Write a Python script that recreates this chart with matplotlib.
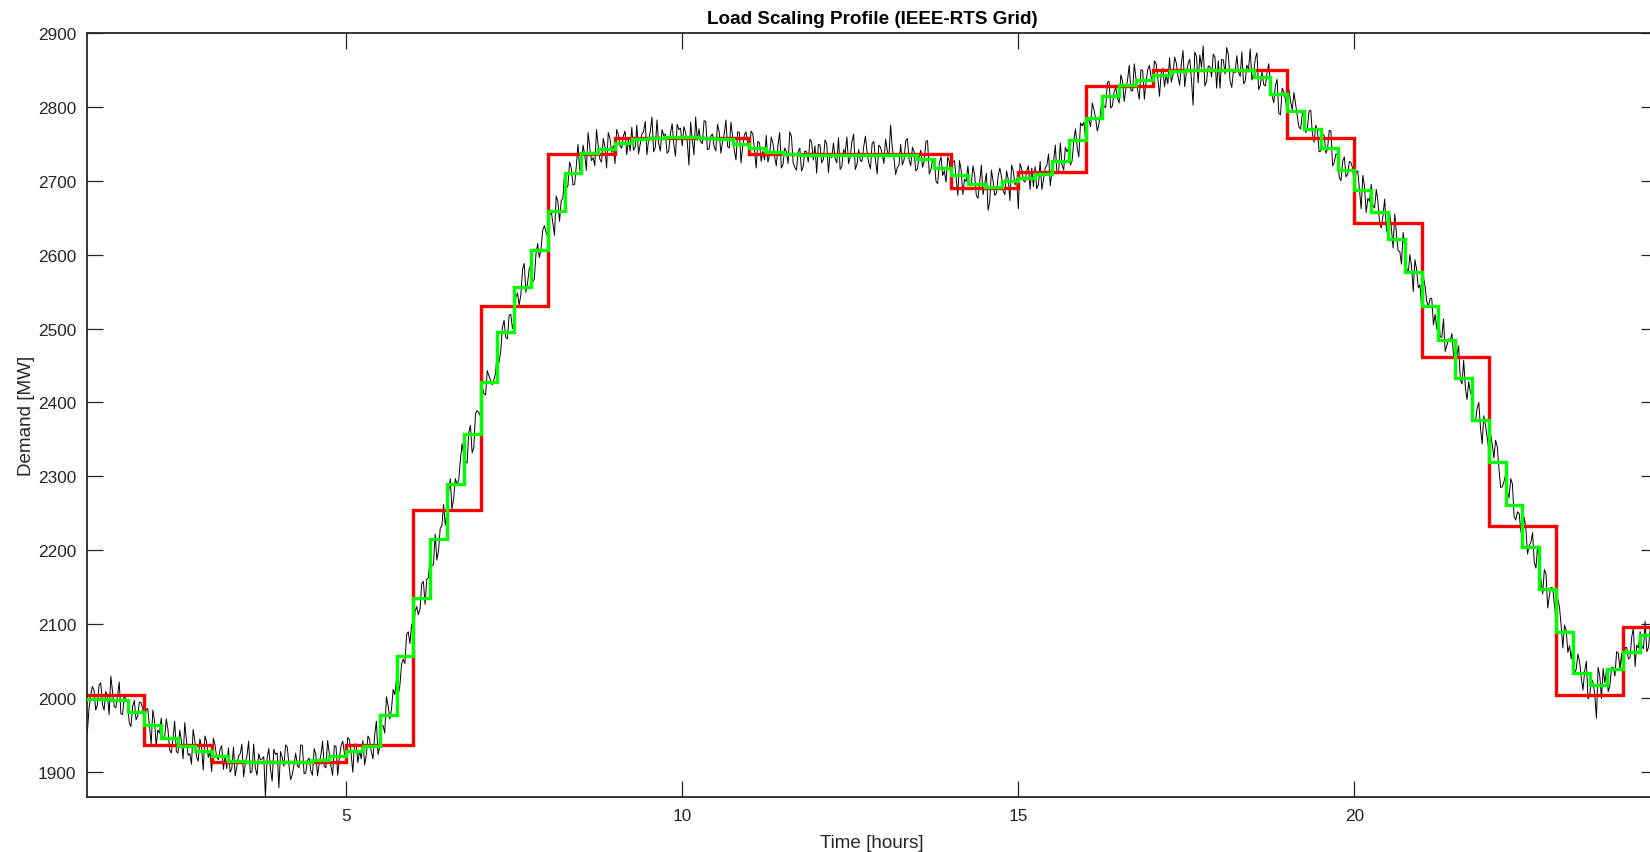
import numpy as np
import matplotlib
matplotlib.use('Agg')
import matplotlib.pyplot as plt

plt.rcParams['font.family'] = ['Liberation Sans', 'DejaVu Sans']

TEXT_COLOR = '#262626'

# hourly scaling profile (value holds from the hour start)
hour_start = list(range(1, 25))
hourly_mw = [2005, 1937, 1914, 1914, 1937, 2255, 2530, 2736, 2758, 2758, 2736, 2736,
             2736, 2690, 2712, 2828, 2850, 2850, 2758, 2643, 2462, 2233, 2005, 2097]

# 15 minute profile, quarters starting at 1.00 h
quarter_mw = [1999, 1999, 1998, 1981, 1964, 1946, 1936, 1929, 1922, 1915, 1914, 1914,
              1914, 1914, 1916, 1922, 1929, 1935, 1978, 2057, 2135, 2215, 2290, 2358,
              2427, 2495, 2556, 2606, 2659, 2710, 2737, 2743, 2751, 2756, 2758, 2759,
              2759, 2758, 2756, 2750, 2744, 2739, 2736, 2735, 2735, 2735, 2735, 2735,
              2735, 2735, 2729, 2717, 2707, 2696, 2692, 2699, 2704, 2709, 2727, 2755,
              2785, 2814, 2829, 2836, 2843, 2848, 2850, 2850, 2850, 2850, 2840, 2817,
              2794, 2770, 2744, 2715, 2687, 2658, 2621, 2576, 2531, 2484, 2433, 2376,
              2320, 2262, 2204, 2148, 2090, 2034, 2018, 2040, 2063, 2085]

# measured load, 1.5 minute samples from 1.15 h to 24.5 h (one row per quarter)
load_mw = [
    1953, 1985, 2004, 2016,
    2011, 1984, 1991, 2018, 2021, 1992, 1984, 2009, 2004, 1978,
    2030, 2010, 1989, 1987, 2003, 2022, 1979, 1978, 2004, 1997,
    1996, 1966, 1962, 1989, 1997, 1971, 1976, 1995, 1994, 1986,
    1964, 1985, 1986, 1962, 1938, 1984, 1970, 1936, 1957, 1953,
    1973, 1947, 1945, 1972, 1958, 1930, 1926, 1945, 1969, 1928,
    1926, 1957, 1942, 1918, 1967, 1943, 1923, 1925, 1911, 1958,
    1942, 1921, 1915, 1945, 1934, 1903, 1949, 1941, 1920, 1927,
    1901, 1946, 1937, 1920, 1917, 1931, 1936, 1904, 1922, 1905,
    1933, 1900, 1905, 1934, 1895, 1908, 1922, 1925, 1938, 1894,
    1911, 1922, 1942, 1899, 1901, 1938, 1906, 1896, 1925, 1917,
    1918, 1921, 1867, 1919, 1932, 1904, 1888, 1931, 1924, 1926,
    1879, 1928, 1920, 1908, 1937, 1934, 1910, 1890, 1897, 1910,
    1926, 1909, 1906, 1937, 1936, 1898, 1899, 1916, 1919, 1902,
    1896, 1932, 1924, 1895, 1912, 1923, 1942, 1908, 1906, 1943,
    1925, 1908, 1896, 1936, 1935, 1896, 1920, 1936, 1942, 1926,
    1917, 1947, 1944, 1925, 1900, 1938, 1938, 1913, 1929, 1918,
    1943, 1910, 1923, 1949, 1944, 1928, 1918, 1950, 1969, 1924,
    1934, 1962, 1963, 1953, 2002, 1990, 1972, 1985, 2012, 2005,
    2027, 2004, 2017, 2046, 2053, 2047, 2086, 2090, 2074, 2100,
    2085, 2117, 2124, 2113, 2121, 2155, 2158, 2127, 2161, 2163,
    2192, 2179, 2181, 2222, 2187, 2199, 2230, 2233, 2262, 2234,
    2251, 2279, 2297, 2256, 2270, 2297, 2289, 2295, 2322, 2344,
    2328, 2320, 2318, 2359, 2369, 2332, 2339, 2385, 2389, 2386,
    2381, 2421, 2412, 2410, 2443, 2436, 2430, 2424, 2431, 2440,
    2475, 2454, 2468, 2501, 2511, 2488, 2486, 2518, 2519, 2500,
    2510, 2542, 2548, 2532, 2546, 2580, 2588, 2549, 2562, 2581,
    2586, 2563, 2567, 2601, 2615, 2596, 2608, 2633, 2639, 2630,
    2624, 2652, 2660, 2643, 2626, 2679, 2672, 2645, 2673, 2676,
    2710, 2689, 2693, 2725, 2717, 2694, 2695, 2720, 2749, 2714,
    2715, 2748, 2735, 2714, 2765, 2744, 2727, 2731, 2720, 2769,
    2748, 2729, 2725, 2757, 2746, 2717, 2765, 2757, 2738, 2747,
    2723, 2769, 2762, 2747, 2744, 2760, 2767, 2735, 2755, 2740,
    2772, 2741, 2745, 2775, 2736, 2749, 2763, 2766, 2780, 2735,
    2755, 2766, 2786, 2739, 2745, 2782, 2750, 2740, 2769, 2761,
    2763, 2737, 2740, 2764, 2777, 2749, 2733, 2776, 2769, 2771,
    2747, 2773, 2765, 2753, 2721, 2779, 2755, 2735, 2786, 2755,
    2770, 2753, 2750, 2781, 2780, 2742, 2743, 2760, 2763, 2746,
    2740, 2776, 2766, 2737, 2752, 2763, 2782, 2746, 2744, 2779,
    2759, 2741, 2728, 2766, 2765, 2724, 2746, 2762, 2766, 2749,
    2738, 2767, 2763, 2742, 2717, 2753, 2751, 2726, 2740, 2728,
    2761, 2725, 2735, 2759, 2750, 2732, 2720, 2748, 2765, 2717,
    2722, 2744, 2739, 2723, 2766, 2760, 2724, 2718, 2714, 2739,
    2744, 2713, 2719, 2740, 2739, 2725, 2756, 2752, 2728, 2747,
    2710, 2749, 2748, 2724, 2729, 2755, 2750, 2711, 2737, 2731,
    2751, 2730, 2724, 2758, 2715, 2719, 2742, 2737, 2759, 2723,
    2732, 2753, 2763, 2715, 2722, 2742, 2727, 2726, 2746, 2760,
    2739, 2724, 2716, 2750, 2753, 2728, 2709, 2748, 2745, 2736,
    2723, 2756, 2741, 2732, 2775, 2744, 2731, 2708, 2718, 2721,
    2749, 2721, 2728, 2754, 2757, 2728, 2720, 2745, 2739, 2713,
    2716, 2733, 2741, 2718, 2726, 2753, 2754, 2709, 2715, 2728,
    2729, 2699, 2696, 2724, 2732, 2707, 2713, 2698, 2732, 2725,
    2703, 2725, 2727, 2703, 2680, 2727, 2714, 2681, 2702, 2699,
    2720, 2694, 2693, 2720, 2708, 2680, 2676, 2697, 2721, 2681,
    2695, 2710, 2660, 2672, 2714, 2699, 2680, 2683, 2706, 2717,
    2705, 2686, 2681, 2713, 2702, 2673, 2721, 2713, 2694, 2702,
    2662, 2723, 2716, 2700, 2698, 2713, 2720, 2688, 2717, 2692,
    2719, 2689, 2695, 2726, 2688, 2702, 2717, 2721, 2736, 2693,
    2712, 2726, 2748, 2709, 2712, 2751, 2721, 2714, 2745, 2739,
    2744, 2721, 2727, 2754, 2770, 2745, 2732, 2778, 2774, 2779,
    2758, 2787, 2782, 2773, 2805, 2796, 2784, 2767, 2777, 2793,
    2815, 2800, 2799, 2833, 2834, 2798, 2801, 2820, 2826, 2811,
    2805, 2843, 2835, 2807, 2824, 2836, 2856, 2822, 2821, 2858,
    2838, 2822, 2810, 2850, 2849, 2810, 2834, 2850, 2856, 2840,
    2831, 2862, 2858, 2839, 2814, 2845, 2852, 2827, 2843, 2831,
    2866, 2833, 2842, 2867, 2859, 2841, 2829, 2858, 2876, 2827,
    2846, 2858, 2864, 2837, 2802, 2874, 2868, 2832, 2870, 2853,
    2882, 2828, 2834, 2855, 2854, 2840, 2871, 2867, 2825, 2862,
    2825, 2864, 2863, 2844, 2880, 2870, 2835, 2826, 2848, 2846,
    2869, 2847, 2841, 2874, 2831, 2834, 2856, 2851, 2878, 2836,
    2845, 2865, 2873, 2823, 2829, 2847, 2830, 2828, 2846, 2858,
    2833, 2815, 2805, 2829, 2837, 2791, 2789, 2825, 2820, 2809,
    2794, 2824, 2807, 2796, 2819, 2803, 2788, 2772, 2770, 2790,
    2795, 2765, 2770, 2794, 2795, 2763, 2752, 2775, 2767, 2739,
    2740, 2763, 2761, 2737, 2743, 2768, 2767, 2720, 2725, 2736,
    2735, 2704, 2700, 2726, 2732, 2705, 2709, 2726, 2724, 2716,
    2692, 2712, 2713, 2687, 2662, 2707, 2692, 2657, 2676, 2672,
    2695, 2666, 2663, 2688, 2672, 2642, 2636, 2653, 2675, 2633,
    2627, 2655, 2636, 2609, 2655, 2628, 2605, 2604, 2587, 2630,
    2607, 2583, 2574, 2600, 2584, 2550, 2593, 2580, 2555, 2559,
    2529, 2570, 2558, 2537, 2530, 2540, 2541, 2505, 2519, 2499,
    2524, 2489, 2488, 2513, 2469, 2477, 2486, 2484, 2493, 2462,
    2457, 2463, 2477, 2431, 2425, 2457, 2420, 2404, 2428, 2414,
    2408, 2377, 2374, 2392, 2400, 2366, 2344, 2382, 2369, 2352,
    2336, 2357, 2343, 2325, 2349, 2340, 2310, 2285, 2286, 2293,
    2303, 2280, 2271, 2297, 2290, 2246, 2241, 2252, 2250, 2227,
    2214, 2245, 2230, 2195, 2206, 2211, 2224, 2184, 2176, 2206,
    2182, 2160, 2141, 2174, 2168, 2122, 2139, 2150, 2149, 2126,
    2109, 2134, 2124, 2098, 2068, 2099, 2092, 2062, 2071, 2053,
    2072, 2033, 2040, 2060, 2049, 2027, 2011, 2037, 2050, 1999,
    2004, 2026, 2021, 2005, 1973, 2042, 2030, 2000, 2040, 2021,
    2038, 2009, 2017, 2041, 2042, 2030, 2063, 2061, 2040, 2061,
    2027, 2068, 2069, 2053, 2055, 2083, 2095, 2043, 2072, 2068,
    2090, 2071, 2067, 2104, 2063, 2069, 2094, 2091, 2104, 2082,
    2098,
]

x_ticks = [5, 10, 15, 20]
y_ticks = list(range(1900, 3000, 100))


def main():
    load_time = np.round(1.15 + 0.025 * np.arange(len(load_mw)), 3)
    hour_edges = hour_start + [hour_start[-1] + 1]
    quarter_edges = 1.0 + 0.25 * np.arange(len(quarter_mw) + 1)

    fig = plt.figure(figsize=(16.5, 8.53), dpi=100)
    ax = fig.add_axes([0.0529, 0.0649, 0.9513, 0.8956])

    ax.plot(load_time, load_mw, color='black', lw=0.7, zorder=1)
    ax.stairs(hourly_mw, hour_edges, baseline=None, color='#ff0000', lw=2.4, zorder=2)
    ax.stairs(quarter_mw, quarter_edges, baseline=None, color='#00ff00', lw=2.4, zorder=3)

    ax.set_xlim(load_time[0], load_time[-1])
    ax.set_ylim(min(load_mw), 2900)
    ax.set_xticks(x_ticks)
    ax.set_yticks(y_ticks)

    ax.tick_params(which='both', direction='in', length=11.5, width=0.9,
                   top=True, right=True, colors=TEXT_COLOR, labelsize=12.4, pad=8)
    for spine in ax.spines.values():
        spine.set_linewidth(1.3)
        spine.set_color(TEXT_COLOR)

    ax.set_xlabel('Time [hours]', fontsize=13.6, color=TEXT_COLOR, labelpad=8)
    ax.set_ylabel('Demand [MW]', fontsize=13.6, color=TEXT_COLOR, labelpad=2)
    ax.set_title('Load Scaling Profile (IEEE-RTS Grid)', fontsize=13.6,
                 fontweight='bold', color='black', pad=7)

    fig.savefig('out.png', dpi=100)


if __name__ == '__main__':
    main()
